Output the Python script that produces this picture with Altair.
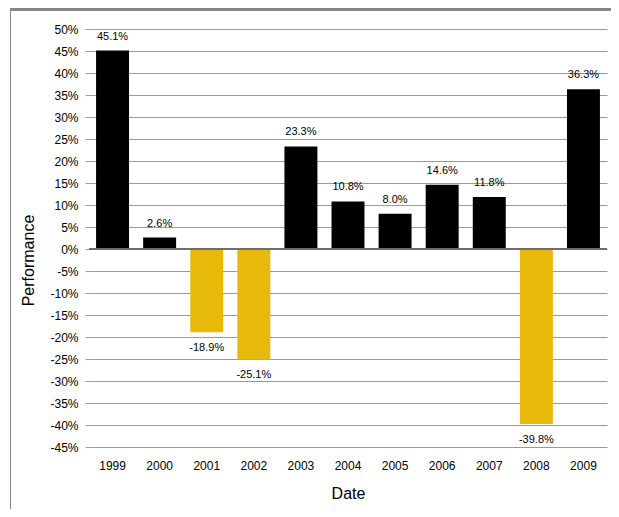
import altair as alt
import pandas as pd

years = ["1999", "2000", "2001", "2002", "2003", "2004", "2005", "2006", "2007", "2008", "2009"]
perf = [45.1, 2.6, -18.9, -25.1, 23.3, 10.8, 8.0, 14.6, 11.8, -39.8, 36.3]
y_ticks = list(range(-45, 51, 5))

df = pd.DataFrame({"Date": years, "Performance": perf})
df["label"] = [f"{v:.1f}%" for v in perf]
df["sign"] = ["pos" if v >= 0 else "neg" for v in perf]

FONT = "Liberation Sans"
W, H = 518, 418

x = alt.X("Date:N", sort=years,
          scale=alt.Scale(paddingInner=0.3, paddingOuter=0.15),
          axis=alt.Axis(title="Date", labelAngle=0, ticks=False, domain=False,
                        labelPadding=13, titlePadding=14, labelFontSize=12,
                        titleFontSize=16, titleFontWeight="normal",
                        labelColor="#000", titleColor="#000", labelFont=FONT, titleFont=FONT))
y = alt.Y("Performance:Q",
          scale=alt.Scale(domain=[-45, 50], nice=False, zero=False),
          axis=alt.Axis(title="Performance", values=y_ticks, tickCount=40, labelOverlap=False,
                        labelExpr="datum.value + '%'", domain=False,
                        tickSize=4, tickColor="#999", gridColor="#999", gridWidth=1,
                        labelPadding=7, labelFontSize=12, titleFontSize=16,
                        titleFontWeight="normal", labelColor="#000", titleColor="#000",
                        labelFont=FONT, titleFont=FONT, titleX=-61, titleY=231,
                        titleAlign="center", titleBaseline="middle"))

bars = alt.Chart(df).mark_bar().encode(
    x=x, y=y, y2=alt.datum(0),
    color=alt.Color("sign:N", scale=alt.Scale(domain=["pos", "neg"], range=["#000000", "#E6B90B"]), legend=None),
)

zero = alt.Chart(pd.DataFrame({"z": [0]})).mark_rule(color="#6e6e6e", strokeWidth=2).encode(
    y="z:Q"
)

lab_pos = alt.Chart(df[df["sign"] == "pos"]).mark_text(
    baseline="alphabetic", dy=-11, fontSize=11, font=FONT, color="#000"
).encode(x=alt.X("Date:N", sort=years), y="Performance:Q", text="label:N")

lab_neg = alt.Chart(df[df["sign"] == "neg"]).mark_text(
    baseline="top", dy=10, fontSize=11, font=FONT, color="#000"
).encode(x=alt.X("Date:N", sort=years), y="Performance:Q", text="label:N")

frame_top = alt.Chart(df).mark_rect(color="#888").encode(
    x=alt.value(-79), x2=alt.value(W + 20), y=alt.value(-21), y2=alt.value(-18)
)
frame_left = alt.Chart(df).mark_rect(color="#888").encode(
    x=alt.value(-79), x2=alt.value(-78), y=alt.value(-21), y2=alt.value(H + 70)
)

chart = alt.layer(bars, zero, lab_pos, lab_neg, frame_top, frame_left).properties(
    width=W, height=H,
    autosize=alt.AutoSizeParams(type="none"),
    padding={"left": 81, "top": 21, "right": 4, "bottom": 62},
).configure_view(stroke=None)

chart.save("out.html", embed_options={"renderer": "svg", "actions": False})
